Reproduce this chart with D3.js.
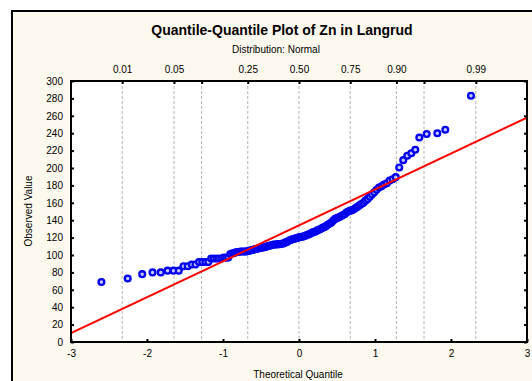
<!DOCTYPE html>
<html><head><meta charset="utf-8">
<script src="https://cdn.jsdelivr.net/npm/d3@7"></script>
<style>
html,body{margin:0;padding:0;background:#ffffff;}
text{font-family:"Liberation Sans",Arial,sans-serif;fill:#000;}
</style></head>
<body>
<svg id="chart" width="532" height="381"></svg>
<script>
// Theoretical quantiles (x)
const theoreticalQuantile = [-2.600,-2.254,-2.063,-1.927,-1.819,-1.729,-1.651,-1.582,-1.520,-1.464,-1.411,-1.362,-1.316,-1.273,-1.232,-1.193,-1.156,-1.120,-1.086,-1.053,-1.021,-0.990,-0.960,-0.931,-0.903,-0.875,-0.848,-0.821,-0.795,-0.770,-0.745,-0.721,-0.697,-0.673,-0.650,-0.627,-0.604,-0.582,-0.560,-0.538,-0.517,-0.496,-0.475,-0.454,-0.433,-0.413,-0.393,-0.373,-0.353,-0.333,-0.314,-0.294,-0.275,-0.256,-0.236,-0.217,-0.198,-0.179,-0.160,-0.141,-0.122,-0.103,-0.084,-0.065,-0.047,-0.028,-0.009,0.009,0.028,0.047,0.065,0.084,0.103,0.122,0.141,0.160,0.179,0.198,0.217,0.236,0.256,0.275,0.294,0.314,0.333,0.353,0.373,0.393,0.413,0.433,0.454,0.475,0.496,0.517,0.538,0.560,0.582,0.604,0.627,0.650,0.673,0.697,0.721,0.745,0.770,0.795,0.821,0.848,0.875,0.903,0.931,0.960,0.990,1.021,1.053,1.086,1.120,1.156,1.193,1.232,1.273,1.319,1.372,1.425,1.478,1.530,1.583,1.680,1.820,1.925,2.263];
const observedValue = [69,73,78,80,80,82,82,82,87,87,89,89,92,92,92,92,96,96,96,96,96,97,97,97,101,
102,102.5,103.5,103.5,104,104,104,104,104.5,105,
105.5,106,106.5,107,107.5,108,108.5,108.5,109,109.5,
110,110.5,111,111.5,112,112,112,112.5,112.5,113,
113,113.5,114.5,115,116,117,117.5,118,118.5,119,
119.5,120,120.5,121,121,121.5,122,123,123.5,124,
125,126,126.5,127,128,129,129.5,130.5,131.5,132,
133,134.5,135.5,136.5,138,140,141.5,142.5,143,144,
145,146,147,149,150,151,151.5,152.5,154,155.5,
157,158.5,160,162.5,164.5,167,169.5,172,175,177.5,
179,181,182.5,185.5,187,189.5,
200.5,209,214,217,221,235,239,240,244,283];
// Reference normal line
const fitMean = 134;
const fitSD = 41.3;
// Axis ticks
const xTicks = [-3,-2,-1,0,1,2,3];
const yTicks = [0,20,40,60,80,100,120,140,160,180,200,220,240,260,280,300];
const probTicks = [0.01,0.05,0.10,0.25,0.50,0.75,0.90,0.95,0.99];
const probLabels = ["0.01","0.05","","0.25","0.50","0.75","0.90","","0.99"];
const titleText = "Quantile-Quantile Plot of Zn in Langrud";
const subtitleText = "Distribution: Normal";
const xLabel = "Theoretical Quantile";
const yLabel = "Observed Value";

// inverse standard normal CDF (Acklam) for the probability axis
function invNorm(p){
  const a=[-3.969683028665376e+01,2.209460984245205e+02,-2.759285104469687e+02,1.383577518672690e+02,-3.066479806614716e+01,2.506628277459239e+00];
  const b=[-5.447609879822406e+01,1.615858368580409e+02,-1.556989798598866e+02,6.680131188771972e+01,-1.328068155288572e+01];
  const c=[-7.784894002430293e-03,-3.223964580411365e-01,-2.400758277161838e+00,-2.549732539343734e+00,4.374664141464968e+00,2.938163982698783e+00];
  const d=[7.784695709041462e-03,3.224671290700398e-01,2.445134137142996e+00,3.754408661907416e+00];
  const pl=0.02425;
  let q,r;
  if(p<pl){q=Math.sqrt(-2*Math.log(p));return (((((c[0]*q+c[1])*q+c[2])*q+c[3])*q+c[4])*q+c[5])/((((d[0]*q+d[1])*q+d[2])*q+d[3])*q+1);}
  if(p>1-pl){q=Math.sqrt(-2*Math.log(1-p));return -(((((c[0]*q+c[1])*q+c[2])*q+c[3])*q+c[4])*q+c[5])/((((d[0]*q+d[1])*q+d[2])*q+d[3])*q+1);}
  q=p-0.5;r=q*q;
  return (((((a[0]*r+a[1])*r+a[2])*r+a[3])*r+a[4])*r+a[5])*q/(((((b[0]*r+b[1])*r+b[2])*r+b[3])*r+b[4])*r+1);
}

(function(){
const svg = d3.select("#chart");
const L=71, R=527, T=81, B=342;
const x = d3.scaleLinear().domain([-3,3]).range([L,R]);
const y = d3.scaleLinear().domain([0,300]).range([B,T]);

// outer frame
svg.append("rect").attr("x",12).attr("y",11).attr("width",540).attr("height",390)
  .attr("fill","#fdf9ee").attr("stroke","#000").attr("stroke-width",2);
// plot area
svg.append("rect").attr("x",L).attr("y",T).attr("width",R-L).attr("height",B-T).attr("fill","#fff");

svg.append("defs").append("clipPath").attr("id","clip").append("rect")
  .attr("x",L).attr("y",T).attr("width",R-L).attr("height",B-T);

// dashed quantile grid
svg.append("g").selectAll("line").data(probTicks).join("line")
  .attr("x1",d=>x(invNorm(d))).attr("x2",d=>x(invNorm(d)))
  .attr("y1",T).attr("y2",B)
  .attr("stroke","#b4b4b4").attr("stroke-width",1).attr("stroke-dasharray","3,2");

// points
const pts = theoreticalQuantile.map((q,i)=>({q, v:observedValue[i]}));
svg.append("g").attr("clip-path","url(#clip)").selectAll("circle").data(pts).join("circle")
  .attr("cx",d=>x(d.q)).attr("cy",d=>y(d.v)).attr("r",2.9)
  .attr("fill","#c8c8ff").attr("stroke","#0000ee").attr("stroke-width",2.3);

// fit line
svg.append("g").attr("clip-path","url(#clip)").append("line")
  .attr("x1",x(-3)).attr("y1",y(fitMean-3*fitSD))
  .attr("x2",x(3)).attr("y2",y(fitMean+3*fitSD))
  .attr("stroke","#ff0000").attr("stroke-width",2);

// plot border
svg.append("rect").attr("x",L).attr("y",T).attr("width",R-L).attr("height",B-T)
  .attr("fill","none").attr("stroke","#000").attr("stroke-width",2);

// axes
const fs = "10px";
const axLeft = d3.axisLeft(y).tickValues(yTicks).tickSize(-3).tickPadding(8).tickFormat(d=>String(d));
const gl = svg.append("g").attr("transform",`translate(${L},0)`).call(axLeft);
const axRight = d3.axisRight(y).tickValues(yTicks).tickSize(-3).tickFormat("");
const gr = svg.append("g").attr("transform",`translate(${R},0)`).call(axRight);
const axBottom = d3.axisBottom(x).tickValues(xTicks).tickSize(-3).tickPadding(8).tickFormat(d=>String(d));
const gb = svg.append("g").attr("transform",`translate(0,${B})`).call(axBottom);
const axTop = d3.axisTop(x).tickValues(probTicks.map(invNorm)).tickSize(-3).tickPadding(8)
  .tickFormat((d,i)=>probLabels[i]);
const gt = svg.append("g").attr("transform",`translate(0,${T})`).call(axTop);
[gl,gr,gb,gt].forEach(g=>{
  g.select(".domain").remove();
  g.selectAll(".tick line").attr("stroke","#000").attr("stroke-width",2);
  g.selectAll("text").style("font-family","'Liberation Sans',Arial,sans-serif").style("font-size",fs).attr("fill","#000");
});

// titles
svg.append("text").attr("x",282).attr("y",35).attr("text-anchor","middle")
  .style("font-size","14px").style("font-weight","bold").text(titleText);
svg.append("text").attr("x",276).attr("y",53).attr("text-anchor","middle")
  .style("font-size","10px").text(subtitleText);
svg.append("text").attr("x",298).attr("y",378).attr("text-anchor","middle")
  .style("font-size","10px").text(xLabel);
svg.append("text").attr("transform","translate(32,211) rotate(-90)").attr("text-anchor","middle")
  .style("font-size","10px").text(yLabel);
})();
</script>
</body></html>
